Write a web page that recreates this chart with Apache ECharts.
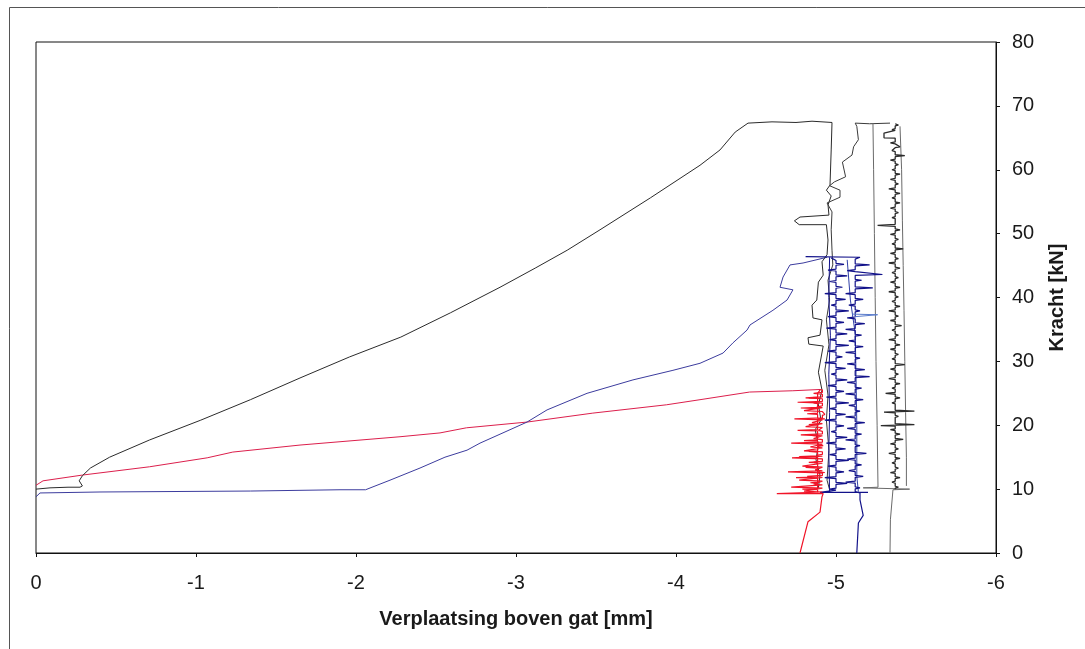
<!DOCTYPE html>
<html>
<head>
<meta charset="utf-8">
<script src="https://cdn.jsdelivr.net/npm/echarts@6/dist/echarts.min.js"></script>
<style>
html,body{margin:0;padding:0;background:#fff;}
#chart{width:1085px;height:649px;}
</style>
</head>
<body>
<div id="chart"></div>
<script>
const xAxisTitle = 'Verplaatsing boven gat [mm]';
const yAxisTitle = 'Kracht [kN]';

// Black test: loading branch, plateau and first descent
const blackRise = [[0,10.0],[-0.0875,10.2],[-0.2,10.3],[-0.19,10.6],[-0.275,10.3],[-0.29,10.5],[-0.27,11.3],[-0.29,12.1],[-0.34,13.3],[-0.46,15.0],[-0.71,17.7],[-1.03,20.8],[-1.34,24.0],[-1.65,27.4],[-1.96,30.7],[-2.28,33.8],[-2.59,37.6],[-2.9,41.6],[-3.12,44.6],[-3.32,47.4],[-3.525,50.6],[-3.84,55.6],[-4.15,60.7],[-4.275,63.1],[-4.37,65.9],[-4.45,67.3],[-4.6,67.5],[-4.75,67.4],[-4.85,67.6],[-4.975,67.4],
 [-4.97,63.1],[-4.9625,57.6],[-4.94,56.8],[-4.97,55.9],[-4.95,54.5],[-4.956,52.9],[-4.775,52.6],[-4.74,52.0],[-4.77,51.4],[-4.94,51.4],[-4.95,49.0],[-4.944,46.7],[-4.9125,45.6],[-4.92,43.5],[-4.89,42.4],[-4.88,39.6],[-4.85,38.8],[-4.856,36.8],[-4.9125,36.5],[-4.9,34.1],[-4.825,33.7],[-4.83,32.7],[-4.92,32.4],[-4.89,28.3],[-4.9125,25.5],[-4.89,23.2],[-4.906,20.8],[-4.87,19.3],[-4.89,16.9],[-4.875,14.6],[-4.9,12.2],[-4.89,10.2]];

// Black test: second trace from the right plateau
const blackTrace2 = [[-5.3375,67.3],[-5.21,67.2],[-5.12,67.3],[-5.13,66.8],[-5.14,64.7],[-5.11,63.6],[-5.1,62.3],[-5.04,61.2],[-5.06,58.9],[-4.99,58.1],[-4.96,57.5],[-5.025,56.8],[-5.025,55.7],[-4.944,54.8],[-4.975,53.4],[-4.97,50.6],[-4.975,47.4],[-4.98,45.1],[-4.95,42.7],[-4.96,39.6],[-4.94,36.5],[-4.956,32.6],[-4.93,28.6],[-4.95,24.7],[-4.94,20.8],[-4.956,16.1],[-4.944,11.4],[-4.96,9.9]];

// Black test: near-vertical branch, base line and unloading
const blackTrace3 = [[-5.231,67.3],[-5.235,60.0],[-5.24,50.0],[-5.245,40.0],[-5.25,30.0],[-5.257,20.0],[-5.2625,10.3],[-5.17,10.2],[-5.46,10.0],[-5.356,9.9],[-5.34,5.2],[-5.3375,0]];

// Black test: noisy cyclic column on the right
const blackNoisy = [[-5.37,67.2],[-5.39,67.0],[-5.37,66.85],[-5.37,66.45],[-5.35,66.3],[-5.37,66.15],[-5.37,65.85],[-5.30,65.75],[-5.30,65.0],[-5.37,64.95],[-5.37,64.35],[-5.34,64.2],[-5.37,64.05],[-5.37,63.75],[-5.40,63.6],[-5.37,63.45],[-5.37,63.15],[-5.35,63.0],[-5.37,62.85],[-5.37,62.35],[-5.43,62.2],[-5.37,62.05],[-5.37,61.65],[-5.34,61.5],[-5.37,61.35],[-5.37,60.95],[-5.39,60.8],[-5.37,60.65],[-5.37,60.15],[-5.35,60.0],[-5.37,59.85],[-5.37,59.45],[-5.40,59.3],[-5.37,59.15],[-5.37,58.65],[-5.34,58.5],[-5.37,58.35],[-5.37,57.95],[-5.39,57.8],[-5.37,57.65],[-5.37,57.15],[-5.33,57.0],[-5.37,56.85],[-5.37,56.45],[-5.40,56.3],[-5.37,56.15],[-5.37,55.75],[-5.35,55.6],[-5.37,55.45],[-5.37,54.95],[-5.40,54.8],[-5.37,54.65],[-5.37,54.15],[-5.34,54.0],[-5.37,53.85],[-5.37,53.45],[-5.39,53.3],[-5.37,53.15],[-5.37,52.65],[-5.35,52.5],[-5.37,52.35],[-5.37,51.45],[-5.26,51.3],[-5.37,51.15],[-5.37,50.75],[-5.40,50.6],[-5.37,50.45],[-5.37,50.05],[-5.34,49.9],[-5.37,49.75],[-5.37,49.25],[-5.39,49.1],[-5.37,48.95],[-5.37,48.55],[-5.35,48.4],[-5.37,48.25],[-5.37,47.75],[-5.42,47.6],[-5.37,47.45],[-5.37,47.05],[-5.34,46.9],[-5.37,46.75],[-5.37,46.25],[-5.39,46.1],[-5.37,45.95],[-5.37,45.55],[-5.33,45.4],[-5.37,45.25],[-5.37,44.75],[-5.40,44.6],[-5.37,44.45],[-5.37,44.05],[-5.35,43.9],[-5.37,43.75],[-5.37,43.25],[-5.39,43.1],[-5.37,42.95],[-5.37,42.55],[-5.34,42.4],[-5.37,42.25],[-5.37,41.75],[-5.40,41.6],[-5.37,41.45],[-5.37,41.05],[-5.33,40.9],[-5.37,40.75],[-5.37,40.25],[-5.39,40.1],[-5.37,39.95],[-5.37,39.55],[-5.35,39.4],[-5.37,39.25],[-5.37,38.75],[-5.40,38.6],[-5.37,38.45],[-5.37,38.05],[-5.33,37.9],[-5.37,37.75],[-5.37,37.25],[-5.39,37.1],[-5.37,36.95],[-5.37,36.55],[-5.34,36.4],[-5.37,36.25],[-5.37,35.75],[-5.41,35.6],[-5.37,35.45],[-5.37,35.05],[-5.35,34.9],[-5.37,34.75],[-5.37,34.25],[-5.39,34.1],[-5.37,33.95],[-5.37,33.55],[-5.33,33.4],[-5.37,33.25],[-5.37,32.75],[-5.40,32.6],[-5.37,32.45],[-5.37,32.05],[-5.34,31.9],[-5.37,31.75],[-5.37,31.25],[-5.39,31.1],[-5.37,30.95],[-5.37,30.55],[-5.35,30.4],[-5.37,30.25],[-5.37,29.65],[-5.43,29.5],[-5.37,29.35],[-5.37,28.95],[-5.34,28.8],[-5.37,28.65],[-5.37,28.15],[-5.39,28.0],[-5.37,27.85],[-5.37,27.45],[-5.33,27.3],[-5.37,27.15],[-5.37,26.65],[-5.40,26.5],[-5.37,26.35],[-5.37,25.95],[-5.35,25.8],[-5.37,25.65],[-5.37,25.15],[-5.31,25.0],[-5.37,24.85],[-5.37,24.45],[-5.40,24.3],[-5.37,24.15],[-5.37,23.65],[-5.35,23.5],[-5.37,23.35],[-5.37,22.35],[-5.49,22.2],[-5.30,22.05],[-5.37,21.95],[-5.37,21.55],[-5.39,21.4],[-5.37,21.25],[-5.37,20.25],[-5.49,20.1],[-5.28,19.95],[-5.37,19.85],[-5.37,19.45],[-5.34,19.3],[-5.37,19.15],[-5.37,18.75],[-5.40,18.6],[-5.37,18.45],[-5.37,17.95],[-5.42,17.8],[-5.37,17.65],[-5.37,17.25],[-5.34,17.1],[-5.37,16.95],[-5.37,16.45],[-5.39,16.3],[-5.37,16.15],[-5.37,15.75],[-5.33,15.6],[-5.37,15.45],[-5.37,14.95],[-5.40,14.8],[-5.37,14.65],[-5.37,14.25],[-5.35,14.1],[-5.37,13.95],[-5.37,13.45],[-5.39,13.3],[-5.37,13.15],[-5.37,12.75],[-5.34,12.6],[-5.37,12.45],[-5.37,11.95],[-5.40,11.8],[-5.37,11.65],[-5.37,11.25],[-5.35,11.1],[-5.37,10.95],[-5.37,10.45],[-5.39,10.3],[-5.37,10.15],[-5.37,10.0]];

// Grey smooth envelope right of the noisy column
const greyEnvelope = [[-5.40,66.8],[-5.41,60.0],[-5.415,52.0],[-5.42,45.0],[-5.425,38.0],[-5.43,30.0],[-5.435,22.0],[-5.44,15.0],[-5.44,10.5]];

// Blue test: loading branch
const blueRise = [[0,8.8],[-0.025,9.4],[-0.4,9.55],[-1.34,9.7],[-1.9,9.9],[-2.06,9.9],[-2.1,10.3],[-2.2125,11.4],[-2.4,13.3],[-2.556,15.0],[-2.694,16.1],[-2.775,17.2],[-2.9,18.6],[-3.069,20.5],[-3.194,22.4],[-3.444,25.0],[-3.731,27.1],[-3.981,28.6],[-4.15,29.7],[-4.294,31.3],[-4.356,32.9],[-4.444,34.9],[-4.4625,35.7],[-4.606,38.0],[-4.694,39.6],[-4.731,41.2],[-4.65,41.6],[-4.669,43.2],[-4.7125,45.1],[-4.794,45.4],[-4.944,46.3]];

// Blue test: cyclic column (right trace)
const blueCycleA = [[-4.81,46.4],[-5.15,46.3],[-5.12,46.0],[-5.12,45.25],[-5.21,45.1],[-5.12,44.95],[-5.12,44.35],[-5.07,44.2],[-5.12,44.05],[-5.12,43.75],[-5.29,43.6],[-5.12,43.45],[-5.12,42.85],[-5.16,42.7],[-5.12,42.55],[-5.12,41.65],[-5.23,41.5],[-5.12,41.35],[-5.12,40.75],[-5.06,40.6],[-5.12,40.45],[-5.12,39.85],[-5.17,39.7],[-5.12,39.55],[-5.12,38.95],[-5.08,38.8],[-5.12,38.65],[-5.12,38.05],[-5.15,37.9],[-5.12,37.75],[-5.12,36.95],[-5.07,36.8],[-5.12,36.65],[-5.12,36.05],[-5.18,35.9],[-5.12,35.75],[-5.12,35.15],[-5.06,35.0],[-5.12,34.85],[-5.12,34.25],[-5.16,34.1],[-5.12,33.95],[-5.12,33.35],[-5.08,33.2],[-5.12,33.05],[-5.12,32.45],[-5.17,32.3],[-5.12,32.15],[-5.12,31.55],[-5.06,31.4],[-5.12,31.25],[-5.12,30.65],[-5.15,30.5],[-5.12,30.35],[-5.12,29.75],[-5.07,29.6],[-5.12,29.45],[-5.12,28.85],[-5.18,28.7],[-5.12,28.55],[-5.12,27.75],[-5.21,27.6],[-5.12,27.45],[-5.12,26.85],[-5.07,26.7],[-5.12,26.55],[-5.12,25.95],[-5.16,25.8],[-5.12,25.65],[-5.12,25.05],[-5.06,24.9],[-5.12,24.75],[-5.12,24.15],[-5.17,24.0],[-5.12,23.85],[-5.12,23.25],[-5.08,23.1],[-5.12,22.95],[-5.12,22.35],[-5.15,22.2],[-5.12,22.05],[-5.12,21.45],[-5.06,21.3],[-5.12,21.15],[-5.12,20.55],[-5.18,20.4],[-5.12,20.25],[-5.12,19.65],[-5.07,19.5],[-5.12,19.35],[-5.12,18.75],[-5.16,18.6],[-5.12,18.45],[-5.12,17.85],[-5.06,17.7],[-5.12,17.55],[-5.12,16.95],[-5.15,16.8],[-5.12,16.65],[-5.12,15.75],[-5.19,15.6],[-5.12,15.45],[-5.12,14.85],[-5.07,14.7],[-5.12,14.55],[-5.12,13.95],[-5.16,13.8],[-5.12,13.65],[-5.12,13.05],[-5.08,12.9],[-5.12,12.75],[-5.12,12.15],[-5.17,12.0],[-5.12,11.85],[-5.12,11.25],[-5.06,11.1],[-5.12,10.95],[-5.12,10.35],[-5.15,10.2],[-5.12,10.05],[-5.12,9.6],[-5.15,9.4],[-5.15,8.3],[-5.17,5.9],[-5.14,4.7],[-5.13,0]];

// Blue test: cyclic column (left trace)
const blueCycleB = [[-4.97,46.2],[-5.00,45.8],[-5.00,45.35],[-5.05,45.2],[-5.00,45.05],[-5.00,44.45],[-4.95,44.3],[-5.00,44.15],[-5.00,43.55],[-5.07,43.4],[-5.00,43.25],[-5.00,42.65],[-4.96,42.5],[-5.00,42.35],[-5.00,41.75],[-5.04,41.6],[-5.00,41.45],[-5.00,40.75],[-4.93,40.6],[-5.00,40.45],[-5.00,39.85],[-5.06,39.7],[-5.00,39.55],[-5.00,38.95],[-4.97,38.8],[-5.00,38.65],[-5.00,38.05],[-5.08,37.9],[-5.00,37.75],[-5.00,37.15],[-4.95,37.0],[-5.00,36.85],[-5.00,36.25],[-5.05,36.1],[-5.00,35.95],[-5.00,35.35],[-4.94,35.2],[-5.00,35.05],[-5.00,34.45],[-5.07,34.3],[-5.00,34.15],[-5.00,33.55],[-4.96,33.4],[-5.00,33.25],[-5.00,32.65],[-5.08,32.5],[-5.00,32.35],[-5.00,31.75],[-4.95,31.6],[-5.00,31.45],[-5.00,30.85],[-5.04,30.7],[-5.00,30.55],[-5.00,29.95],[-4.93,29.8],[-5.00,29.65],[-5.00,29.05],[-5.06,28.9],[-5.00,28.75],[-5.00,28.15],[-4.97,28.0],[-5.00,27.85],[-5.00,27.25],[-5.07,27.1],[-5.00,26.95],[-5.00,26.35],[-4.95,26.2],[-5.00,26.05],[-5.00,25.45],[-5.05,25.3],[-5.00,25.15],[-5.00,24.55],[-4.94,24.4],[-5.00,24.25],[-5.00,23.65],[-5.08,23.5],[-5.00,23.35],[-5.00,22.75],[-4.96,22.6],[-5.00,22.45],[-5.00,21.85],[-5.06,21.7],[-5.00,21.55],[-5.00,20.95],[-4.93,20.8],[-5.00,20.65],[-5.00,20.05],[-5.05,19.9],[-5.00,19.75],[-5.00,19.15],[-4.97,19.0],[-5.00,18.85],[-5.00,18.25],[-5.07,18.1],[-5.00,17.95],[-5.00,17.35],[-4.94,17.2],[-5.00,17.05],[-5.00,16.45],[-5.06,16.3],[-5.00,16.15],[-5.00,15.55],[-4.96,15.4],[-5.00,15.25],[-5.00,14.65],[-5.08,14.5],[-5.00,14.35],[-5.00,13.75],[-4.95,13.6],[-5.00,13.45],[-5.00,12.85],[-5.05,12.7],[-5.00,12.55],[-5.00,11.95],[-4.93,11.8],[-5.00,11.65],[-5.00,11.05],[-5.07,10.9],[-5.00,10.75],[-5.00,10.15],[-4.96,10.0],[-5.00,9.85],[-5.00,9.6],[-4.90,9.5],[-5.20,9.5]];

// Blue test: left vertical, smooth envelope and a lighter excursion
const blueLeft = [[-4.96,46.3],[-4.955,40.0],[-4.965,34.0],[-4.955,28.0],[-4.96,22.0],[-4.955,16.0],[-4.96,9.5]];
const blueEnvelope = [[-5.07,45.9],[-5.09,39.6],[-5.12,34.4],[-5.125,28.0],[-5.13,20.0],[-5.13,12.0],[-5.14,9.6]];
const blueLight = [[-5.10,37.4],[-5.26,37.3],[-5.26,37.0],[-5.12,37.0]];

// Red test: loading branch
const redRise = [[0,10.6],[-0.044,11.3],[-0.29,12.2],[-0.71,13.5],[-1.07,14.9],[-1.23,15.8],[-1.65,16.9],[-2.275,18.2],[-2.525,18.8],[-2.69,19.6],[-3.07,20.5],[-3.48,21.9],[-3.48,22.2],[-3.94,23.2],[-4.15,24.0],[-4.46,25.2],[-4.73,25.4],[-4.90,25.6]];

// Red test: cyclic column
const redCycleA = [[-4.90,25.6],[-4.915,25.5],[-4.915,25.15],[-4.86,25.0],[-4.915,24.85],[-4.915,24.45],[-4.83,24.3],[-4.915,24.15],[-4.915,23.75],[-4.76,23.6],[-4.915,23.45],[-4.915,23.05],[-4.88,22.9],[-4.915,22.75],[-4.915,22.45],[-4.80,22.3],[-4.915,22.15],[-4.915,21.85],[-4.93,21.7],[-4.915,21.55],[-4.915,21.15],[-4.74,21.0],[-4.915,20.85],[-4.915,20.55],[-4.85,20.4],[-4.915,20.25],[-4.915,19.95],[-4.81,19.8],[-4.915,19.65],[-4.915,19.35],[-4.89,19.2],[-4.915,19.05],[-4.915,18.65],[-4.78,18.5],[-4.915,18.35],[-4.915,18.05],[-4.86,17.9],[-4.915,17.75],[-4.915,17.35],[-4.72,17.2],[-4.915,17.05],[-4.915,16.75],[-4.84,16.6],[-4.915,16.45],[-4.915,16.15],[-4.80,16.0],[-4.915,15.85],[-4.915,15.45],[-4.88,15.3],[-4.915,15.15],[-4.915,15.05],[-4.725,14.9],[-4.915,14.75],[-4.915,14.35],[-4.83,14.2],[-4.915,14.05],[-4.915,13.75],[-4.79,13.6],[-4.915,13.45],[-4.915,13.15],[-4.87,13.0],[-4.915,12.85],[-4.70,12.7],[-4.915,12.55],[-4.915,12.15],[-4.82,12.0],[-4.915,11.85],[-4.915,11.55],[-4.77,11.4],[-4.915,11.25],[-4.915,10.95],[-4.86,10.8],[-4.915,10.65],[-4.915,10.45],[-4.72,10.3],[-4.915,10.15],[-4.915,9.85],[-4.80,9.7],[-4.915,9.55],[-4.63,9.3],[-4.92,9.3],[-4.9125,8.8],[-4.9,6.4],[-4.825,4.9],[-4.775,0]];
const redCycleB = [[-4.885,9.5],[-4.885,9.9],[-4.79,10.0],[-4.885,10.1],[-4.885,10.9],[-4.84,11.0],[-4.885,11.1],[-4.885,11.7],[-4.75,11.8],[-4.885,11.9],[-4.885,12.5],[-4.93,12.6],[-4.885,12.7],[-4.885,13.3],[-4.81,13.4],[-4.885,13.5],[-4.885,14.1],[-4.86,14.2],[-4.885,14.3],[-4.885,15.0],[-4.77,15.1],[-4.885,15.2],[-4.885,15.8],[-4.83,15.9],[-4.885,16.0],[-4.885,16.7],[-4.92,16.8],[-4.885,16.9],[-4.885,17.5],[-4.80,17.6],[-4.885,17.7],[-4.885,18.3],[-4.85,18.4],[-4.885,18.5],[-4.885,19.1],[-4.76,19.2],[-4.885,19.3],[-4.885,20.0],[-4.83,20.1],[-4.885,20.2],[-4.885,20.9],[-4.93,21.0],[-4.885,21.1],[-4.885,21.7],[-4.82,21.8],[-4.885,21.9],[-4.885,22.6],[-4.78,22.7],[-4.885,22.8],[-4.885,23.4],[-4.86,23.5],[-4.885,23.6],[-4.885,24.2],[-4.81,24.3],[-4.885,24.4],[-4.885,25.0],[-4.90,25.5]];

const BLACK = '#2b2b2b', GREY = '#6a6a6a', BLUE = '#3c3c9e', NAVY = '#12128a', LIGHTBLUE = '#5a7ccc', RED = '#dc1f4c', BRIGHTRED = '#f01428';
const FONT = '"Liberation Sans", Arial, sans-serif';

function line(data, color, width) {
  return {type:'line', data:data, showSymbol:false, symbol:'none', animation:false, silent:true,
    lineStyle:{color:color, width:width||1}, z:2};
}

const chart = echarts.init(document.getElementById('chart'), null, {renderer:'canvas'});
chart.setOption({
  backgroundColor:'#fff',
  animation:false,
  textStyle:{fontFamily:FONT},
  graphic:[{type:'rect', shape:{x:9.5, y:7.5, width:1100, height:700}, style:{fill:'none', stroke:'#555', lineWidth:1}, z:-1, silent:true}],
  grid:{left:36, right:89, top:42, bottom:96, show:true, borderColor:'#111', borderWidth:1, backgroundColor:'#fff'},
  xAxis:{type:'value', min:-6, max:0, interval:1, inverse:true,
    axisLine:{show:true, onZero:false, lineStyle:{color:'#111', width:1}},
    axisTick:{show:true, length:4, lineStyle:{color:'#111'}},
    splitLine:{show:false},
    axisLabel:{color:'#1a1a1a', fontSize:20, margin:20, fontFamily:FONT},
    name:xAxisTitle, nameLocation:'middle', nameGap:56,
    nameTextStyle:{color:'#1a1a1a', fontSize:20, fontWeight:'bold', fontFamily:FONT}},
  yAxis:{type:'value', position:'right', min:0, max:80, interval:10,
    axisLine:{show:true, onZero:false, lineStyle:{color:'#111', width:1}},
    axisTick:{show:true, length:4, lineStyle:{color:'#111'}},
    splitLine:{show:false},
    axisLabel:{color:'#1a1a1a', fontSize:20, margin:16, fontFamily:FONT},
    name:yAxisTitle, nameLocation:'middle', nameGap:51, nameRotate:90,
    nameTextStyle:{color:'#1a1a1a', fontSize:20, fontWeight:'bold', fontFamily:FONT}},
  series:[
    line(redRise, RED),
    line(blueRise, BLUE),
    line(blackRise, BLACK),
    line(blackTrace2, '#3a3a3a'),
    line(blackTrace3, GREY),
    line(greyEnvelope, GREY),
    line(blackNoisy, BLACK, 1.3),
    line(blueLeft, NAVY),
    line(blueEnvelope, '#3040a8'),
    line(blueCycleB, NAVY, 1.2),
    line(blueCycleA, NAVY, 1.2),
    line(blueLight, LIGHTBLUE),
    line(redCycleB, BRIGHTRED, 1.2),
    line(redCycleA, BRIGHTRED, 1.2)
  ]
});
</script>
</body>
</html>
